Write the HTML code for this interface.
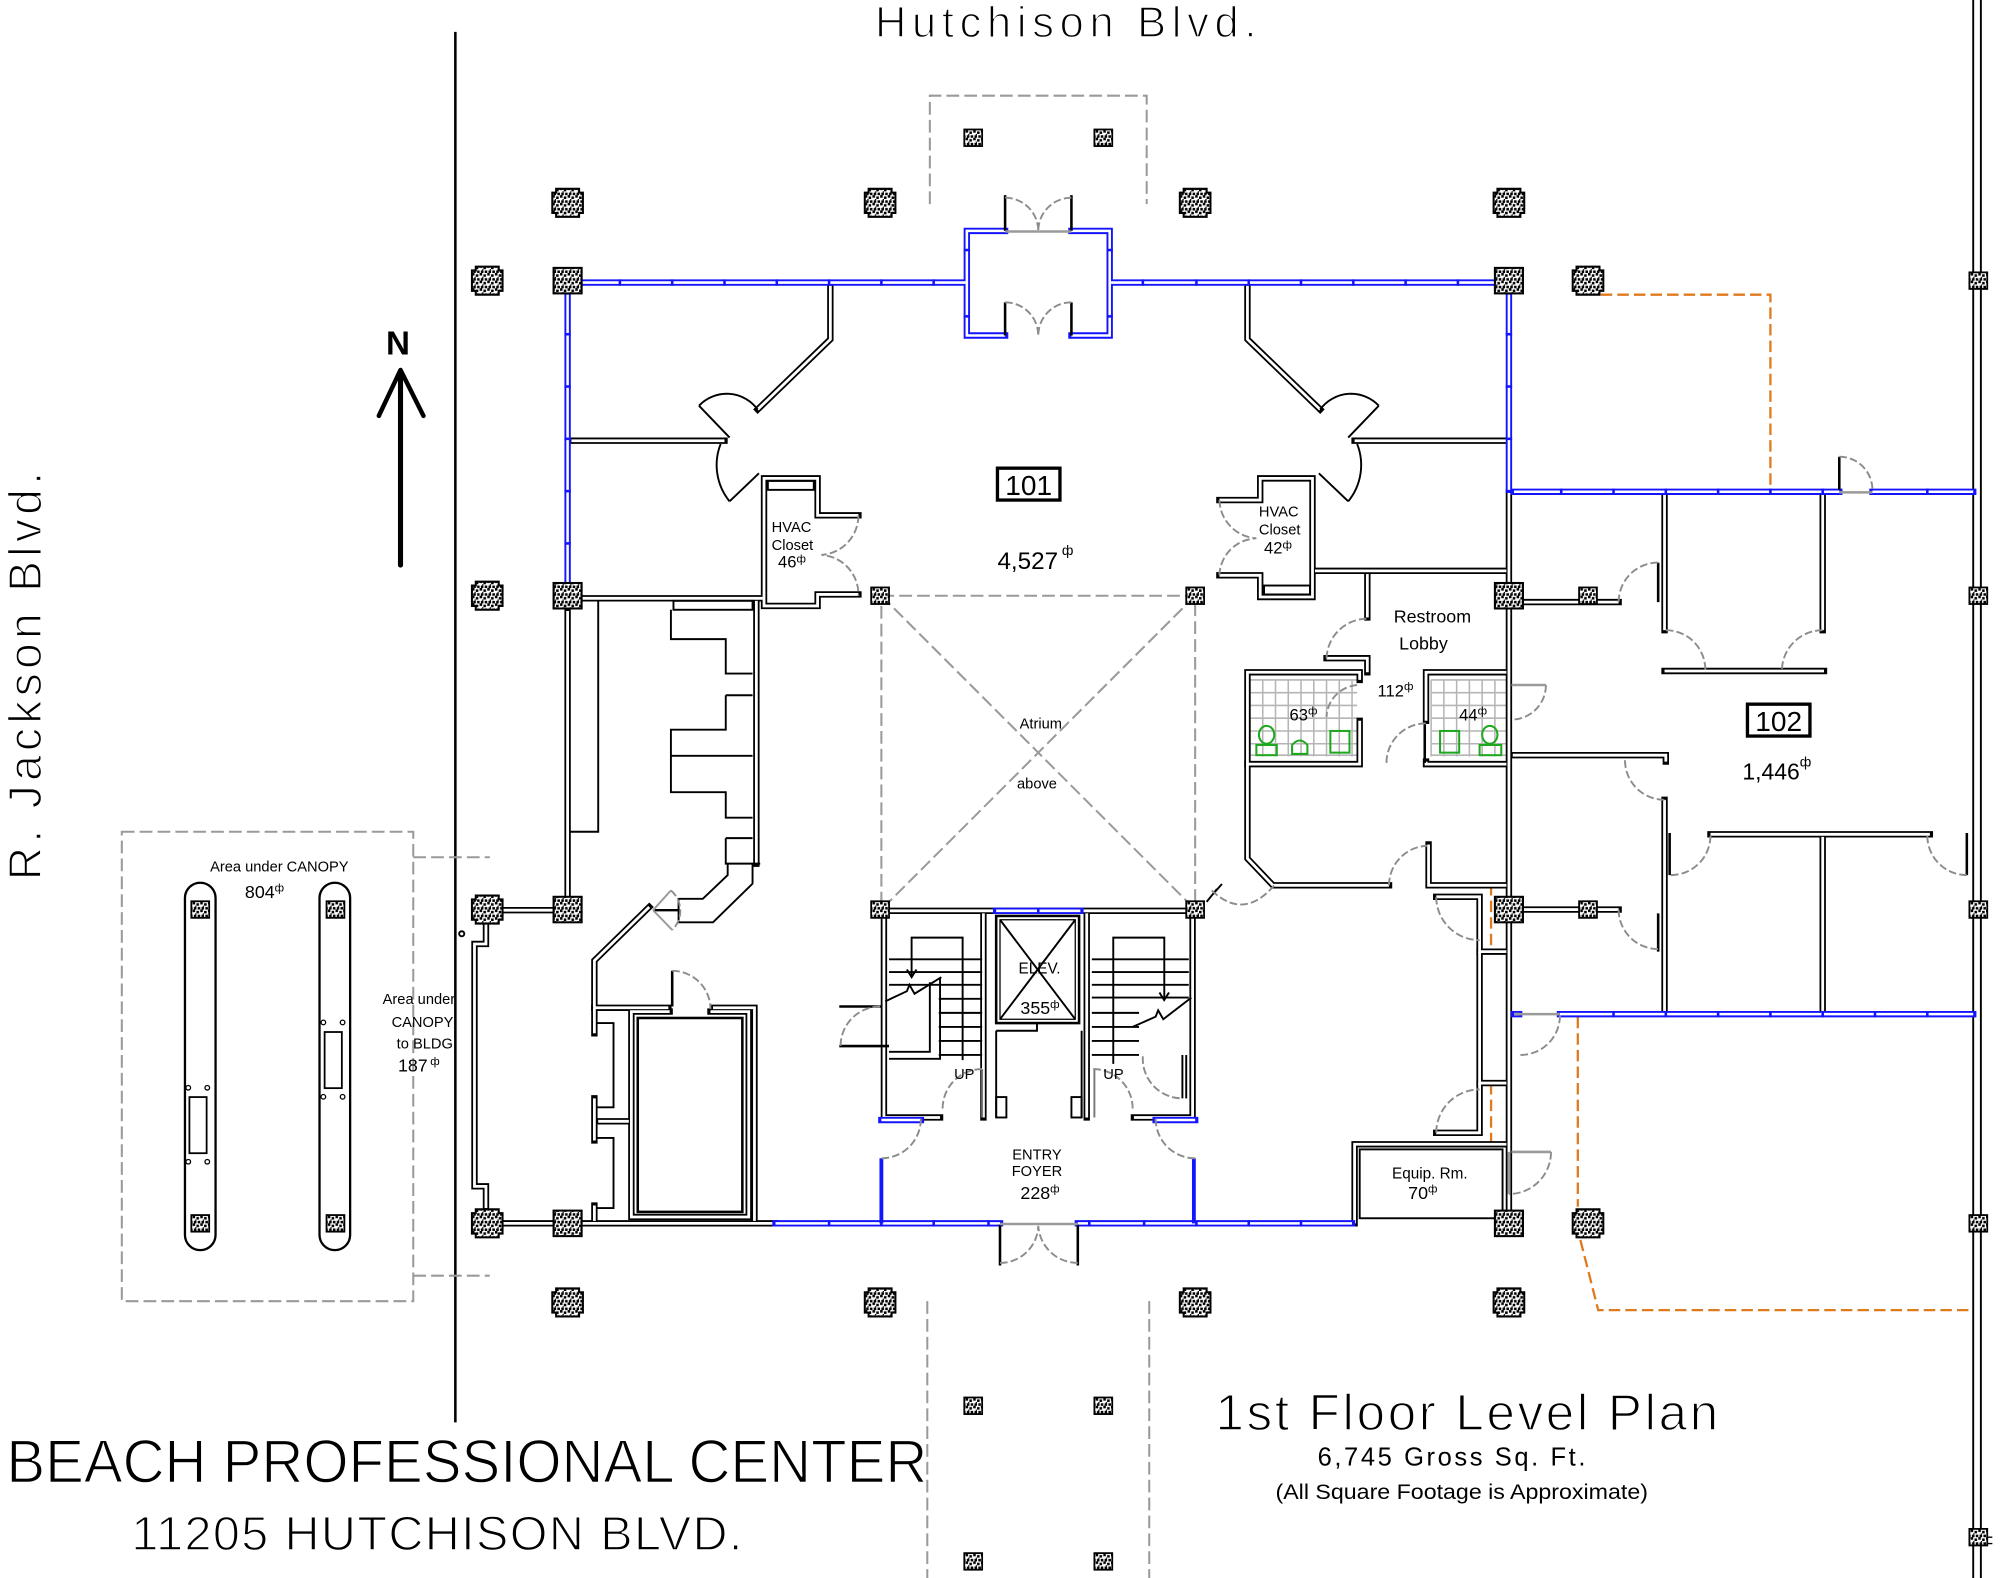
<!DOCTYPE html>
<html><head><meta charset="utf-8">
<style>
html,body{margin:0;padding:0;background:#fff;}
svg{display:block;}
text{font-family:"Liberation Sans",sans-serif;fill:#000;}
.thin{stroke:#fff;stroke-width:1.1px;}
</style></head><body>
<svg width="2000" height="1578" viewBox="0 0 1568 1237" preserveAspectRatio="none" xmlns="http://www.w3.org/2000/svg">
<defs>
<pattern id="sp" width="6" height="6" patternUnits="userSpaceOnUse">
<rect width="6" height="6" fill="#fff"/>
<rect x="0" y="0" width="2" height="2" fill="#000"/>
<rect x="3" y="1" width="2" height="2" fill="#000"/>
<rect x="1" y="4" width="2" height="2" fill="#000"/>
<rect x="4" y="4" width="2" height="2" fill="#000"/>
<rect x="2" y="3" width="1" height="1" fill="#000"/>
</pattern>
<polygon id="bc" points="-9,-11 9,-11 9,-8 12,-8 12,8 9,8 9,11 -9,11 -9,8 -12,8 -12,-8 -9,-8" fill="url(#sp)" stroke="#000" stroke-width="1.6"/>
<rect id="mc" x="-11" y="-10" width="22" height="20" fill="url(#sp)" stroke="#000" stroke-width="1.6"/>
<rect id="sc" x="-7" y="-6.5" width="14" height="13" fill="url(#sp)" stroke="#000" stroke-width="1.4"/>
<g id="bw" fill="none">
<path d="M651,224 V266 L594,321"/>
<path d="M448,345.5 H568"/>
<path d="M978,224 V266 L1035,321"/>
<path d="M1062,345.5 H1181"/>
<path d="M673,404 H641 V375 H599 V475 H641 V466 H673"/>
<path d="M448,469 H598"/>
<path d="M956,392 H988 V375 H1029 V468 H988 V451 H956"/>
<path d="M1031,447.5 H1181"/>
<path d="M1072,450 V484"/>
<path d="M1040,516 H1072 V527"/>
<path d="M1066,533 V527 H978 V599 H1066 V565"/>
<path d="M1118,565 V527 H1181"/>
<path d="M1118,597 V599 H1181"/>
<path d="M978,599 V673 L998,694 H1089"/>
<path d="M1120,662 V694 H1181"/>
<path d="M1126,703 H1160 V746 H1181"/>
<path d="M1160,746 V849 H1181"/>
<path d="M1160,849 V888 H1126"/>
<path d="M1062,959 V897 H1181"/>
<path d="M1183,386 V950"/>
<path d="M1193,472 H1269"/>
<path d="M1193,713 H1269"/>
<path d="M1305,388 V494"/>
<path d="M1429,388 V494"/>
<path d="M1305,526 H1430"/>
<path d="M1186,592 H1306 V597"/>
<path d="M1305,627 V794"/>
<path d="M1341,654 H1513"/>
<path d="M1429,656 V794"/>
<path d="M445,479 V703"/>
<path d="M593,471 V677"/>
<path d="M509,711 L466,753 V790"/>
<path d="M466,790 H524"/>
<path d="M559,790 H591.5 V957"/>
<path d="M466,790 V810 M466,861 V894 M466,945 V957"/>
<path d="M469,879 H493"/>
<path d="M525,793 H495 V954 H587 V793 H557"/>
<path d="M393,713.5 H435"/>
<path d="M393,959 H435"/>
<path d="M455,959 H608"/>
<path d="M381,723 V740 H372 V930 H381 V947"/>
<path d="M693,714 H935"/>
<path d="M693,716 V876 H737"/>
<path d="M771,716 V876"/>
<path d="M852,716 V876"/>
<path d="M935,716 V876 H889"/>
</g>
<g id="blw" fill="none">
<path d="M455,221.5 H757"/>
<path d="M871,221.5 H1172"/>
<path d="M445,231 V457"/>
<path d="M1183,231 V384"/>
<path d="M788,181 H758 V263 H788"/>
<path d="M840,181 H870 V263 H840"/>
<path d="M1187,385.5 H1442"/>
<path d="M1468,385.5 H1547"/>
<path d="M1223,795 H1547"/>
<path d="M1187,795 H1191"/>
<path d="M608,959 H784"/>
<path d="M845,959 H1060"/>
<path d="M691,878 H722"/>
<path d="M906,878 H937"/>
<path d="M781,714 H847"/>
</g>
</defs>

<rect width="1568" height="1237" fill="#fff"/>

<!-- site lines -->
<path d="M357,25 V1115" stroke="#000" stroke-width="2" fill="none"/>
<path d="M1547,0 V1237 M1553,0 V1237" stroke="#000" stroke-width="1.5" fill="none"/>
<path d="M1553,1205 H1562 M1553,1210 H1562" stroke="#000" stroke-width="1" fill="none"/>

<!-- grey dashed -->
<g fill="none" stroke="#9a9a9a" stroke-width="1.6" stroke-dasharray="10 4">
<path d="M729,160 V75 H899 V160"/>
<path d="M691,467 H937 V713 H691 Z"/>
<path d="M691,467 L937,713 M937,467 L691,713"/>
<path d="M727,1020 V1237 M901,1020 V1237"/>
<rect x="95.5" y="652" width="228.5" height="368"/>
<path d="M324,672 H384 M324,1000 H384"/>
</g>

<!-- orange dashed -->
<g fill="none" stroke="#e07a1f" stroke-width="1.8" stroke-dasharray="9 4">
<path d="M1255,231 H1388 V384"/>
<path d="M1237,797 V946"/>
<path d="M1239,972 L1253,1027 H1546"/>
<path d="M1169,693 V746 M1169,849 V897"/>
</g>

<!-- tile grids -->
<g stroke="#b5b5b5" stroke-width="1.2" fill="none">
<path d="M980,533 H1064 M980,543 H1064 M980,553 H1064 M980,563 H1064 M980,573 H1064 M980,583 H1064 M980,592 H1064"/>
<path d="M980,533 V593 M990,533 V593 M1000,533 V593 M1010,533 V593 M1020,533 V593 M1030,533 V593 M1040,533 V593 M1050,533 V593 M1060,533 V593"/>
<path d="M1122,533 H1182 M1122,543 H1182 M1122,553 H1182 M1122,563 H1182 M1122,573 H1182 M1122,583 H1182 M1122,592 H1182"/>
<path d="M1122,533 V593 M1132,533 V593 M1142,533 V593 M1152,533 V593 M1162,533 V593 M1172,533 V593"/>
</g>

<!-- walls -->
<use href="#bw" stroke="#000" stroke-width="5" stroke-linecap="square"/>
<use href="#bw" stroke="#fff" stroke-width="2.2"/>
<use href="#blw" stroke="#1414ff" stroke-width="5" stroke-linecap="square"/>
<use href="#blw" stroke="#fff" stroke-width="2"/>
<path d="M691,908 V959 M936,908 V959" stroke="#1414ff" stroke-width="3" fill="none"/>

<!-- blue ticks -->
<g fill="#1414ff">
<rect x="485" y="219" width="2" height="5"/><rect x="526" y="219" width="2" height="5"/><rect x="567" y="219" width="2" height="5"/><rect x="608" y="219" width="2" height="5"/><rect x="649" y="219" width="2" height="5"/><rect x="690" y="219" width="2" height="5"/><rect x="731" y="219" width="2" height="5"/>
<rect x="895" y="219" width="2" height="5"/><rect x="937" y="219" width="2" height="5"/><rect x="978" y="219" width="2" height="5"/><rect x="1019" y="219" width="2" height="5"/><rect x="1060" y="219" width="2" height="5"/><rect x="1101" y="219" width="2" height="5"/><rect x="1142" y="219" width="2" height="5"/>
<rect x="442.5" y="261" width="5" height="2"/><rect x="442.5" y="302" width="5" height="2"/><rect x="442.5" y="343" width="5" height="2"/><rect x="442.5" y="384" width="5" height="2"/><rect x="442.5" y="425" width="5" height="2"/>
<rect x="1180.5" y="261" width="5" height="2"/><rect x="1180.5" y="302" width="5" height="2"/><rect x="1180.5" y="343" width="5" height="2"/>
<rect x="755.5" y="195" width="5" height="2"/><rect x="755.5" y="247" width="5" height="2"/><rect x="867.5" y="195" width="5" height="2"/><rect x="867.5" y="247" width="5" height="2"/>
<rect x="1223" y="383" width="2" height="5"/><rect x="1264" y="383" width="2" height="5"/><rect x="1305" y="383" width="2" height="5"/><rect x="1346" y="383" width="2" height="5"/><rect x="1387" y="383" width="2" height="5"/><rect x="1428" y="383" width="2" height="5"/><rect x="1510" y="383" width="2" height="5"/>
<rect x="1264" y="792.5" width="2" height="5"/><rect x="1305" y="792.5" width="2" height="5"/><rect x="1346" y="792.5" width="2" height="5"/><rect x="1387" y="792.5" width="2" height="5"/><rect x="1428" y="792.5" width="2" height="5"/><rect x="1469" y="792.5" width="2" height="5"/><rect x="1510" y="792.5" width="2" height="5"/>
<rect x="649" y="956.5" width="2" height="5"/><rect x="690" y="956.5" width="2" height="5"/><rect x="731" y="956.5" width="2" height="5"/><rect x="774" y="956.5" width="2" height="5"/><rect x="853" y="956.5" width="2" height="5"/><rect x="896" y="956.5" width="2" height="5"/><rect x="937" y="956.5" width="2" height="5"/><rect x="978" y="956.5" width="2" height="5"/><rect x="1019" y="956.5" width="2" height="5"/>
<rect x="813" y="711.5" width="2" height="5"/>
</g>

<!-- thin black details -->
<g fill="none" stroke="#000" stroke-width="1.5">
<path d="M447,652 H469 V471"/>
<rect x="528" y="471" width="62" height="7"/>
<path d="M526,478 V501 H569 V528 H590"/>
<path d="M569,545 H590 M569,545 V572 H526 V621 H569 V641 H590"/>
<path d="M526,592.5 H590"/>
<path d="M569,657 H590 M569,657 V677 H596"/>
<path d="M570.5,677 V686 L551,704.6 H532 V723 H559 L590,692.7 V677"/>
<rect x="500" y="798" width="82" height="152" stroke-width="2"/>
<path d="M468,802 H481 V868 H468 M468,892 H481 V947 H468"/>
<rect x="602" y="377" width="36" height="7"/>
<rect x="991" y="459" width="36" height="7"/>
<!-- stairs left -->
<path d="M697,752 H770 M697,762 H770 M697,772 H770 M736,783 H770 M736,794 H770 M736,805 H770 M736,816 H770 M736,827 H770"/>
<path d="M714.7,765 V735 H754.7 V831"/>
<path d="M697,830 H737 V767"/>
<path d="M697,824.5 H729 V770"/>
<path d="M694,785 L711,777 L713,772 L717,779 L738,766"/>
<path d="M711,760 L714.7,766 L718.5,760"/>
<!-- stairs right -->
<path d="M856,752 H932 M856,762 H932 M856,772 H932 M856,782 H932 M856,794 H893 M856,805 H893 M856,816 H893 M856,827 H893"/>
<path d="M872.8,834 V735 H912.8 V784"/>
<path d="M888,805 L906,797 L908,792 L912,799 L934,782"/>
<path d="M909,778 L912.7,784 L916.5,778"/>
<path d="M927,827 V861 M930,827 V861"/>
<!-- elevator -->
<rect x="781" y="718" width="65" height="84" stroke-width="2"/>
<rect x="784" y="721" width="59" height="78" stroke-width="1"/>
<path d="M784,721 L843,799 M843,721 L784,799"/>
<path d="M781,808 H813 V802 M781,808 V876 M848,808 V876"/>
<rect x="781" y="860" width="8" height="16"/>
<rect x="840" y="860" width="8" height="16"/>
<!-- equip inner -->
<rect x="1066" y="901" width="112" height="54"/>
<!-- door leaves -->
<path d="M788,153 V181 M840,153 V181 M788,237 V263 M840,237 V263 M784,960 V992 M845,960 V992" stroke-width="2"/>
<path d="M548,318 L572,343 M1081,318 L1057,343 M595,371 L572,393 M1034,371 L1057,393"/>
<path d="M548,318 A30,30 0 0 1 594,321"/>
<path d="M1081,318 A30,30 0 0 0 1035,321"/>
<path d="M565,348 A45,45 0 0 0 572,393"/>
<path d="M1064,348 A45,45 0 0 1 1057,393"/>
<path d="M1300,441 V472 M1309,653 V686 M1542,653 V686 M1300,716 V746 M1442,358 V384 M1117,566 V598 M527,789 V761 M658,789 H691 M658,820 H697" stroke-width="2"/>
<path d="M770,838 V876 M858,838 V876" stroke="#777"/>
<circle cx="362" cy="732" r="2"/>
<path d="M946,707 L954,697 M950,702 L958,693"/>
<path d="M512,713.5 H533" stroke-width="1.8"/>
</g>

<!-- door arcs grey dashed -->
<g fill="none" stroke="#8c8c8c" stroke-width="1.5" stroke-dasharray="6 2.5">
<path d="M788,155 A26,26 0 0 1 814,181 M840,155 A26,26 0 0 0 814,181"/>
<path d="M788,237 A26,26 0 0 1 814,263 M840,237 A26,26 0 0 0 814,263"/>
<path d="M784,990 A30,30 0 0 0 814,961 M845,990 A31,31 0 0 1 814,961"/>
<path d="M673,404 A31,31 0 0 1 644,435 A31,31 0 0 1 673,467"/>
<path d="M956,392 A31,31 0 0 0 985,422 A30,30 0 0 0 956,451"/>
<path d="M1040,516 A32,32 0 0 1 1072,485"/>
<path d="M1064,537 A26,26 0 0 0 1040,562"/>
<path d="M1087,598 A31,31 0 0 1 1118,567"/>
<path d="M1212,537 A27,27 0 0 1 1187,564"/>
<path d="M1089,694 A31,31 0 0 1 1119,663"/>
<path d="M950,698 Q975,722 999,694"/>
<path d="M1126,703 A34,34 0 0 0 1160,737"/>
<path d="M1126,888 A34,34 0 0 1 1160,854"/>
<path d="M1216,903 A33,33 0 0 1 1183,936"/>
<path d="M1192,827 A31,31 0 0 0 1223,796"/>
<path d="M1442,358 A26,26 0 0 1 1468,384"/>
<path d="M1269,472 A31,31 0 0 1 1300,441"/>
<path d="M1306,494 A31,31 0 0 1 1337,525"/>
<path d="M1429,494 A32,32 0 0 0 1397,525"/>
<path d="M1274,596 A31,31 0 0 0 1305,627"/>
<path d="M1310,686 A31,31 0 0 0 1341,655"/>
<path d="M1542,686 A31,31 0 0 1 1511,655"/>
<path d="M1269,713 A31,31 0 0 0 1300,744"/>
<path d="M690,789 A31,31 0 0 0 659,820"/>
<path d="M739,869 A31,31 0 0 1 770,838"/>
<path d="M888,869 A31,31 0 0 0 857,838"/>
<path d="M896,828 A31,31 0 0 0 927,861"/>
<path d="M722,877 A31,31 0 0 1 691,908"/>
<path d="M906,877 A31,31 0 0 0 937,908"/>
<path d="M527,761 A30,30 0 0 1 557,791"/>
<path d="M526,698 A21,21 0 0 1 527,729"/>
</g>
<g stroke="#9a9a9a" stroke-width="1.5" fill="none">
<path d="M512,713.5 L526,698 M512,713.5 L527,729"/>
</g>
<g stroke="#9a9a9a" stroke-width="2" fill="none">
<path d="M788,181.5 H840 M784,959.5 H845 M1442,386 H1468 M1183,903 V936 M1187,795 H1223 M1185,903 H1216 M1185,537 H1212"/>
</g>

<!-- green fixtures -->
<g fill="none" stroke="#1fa81f" stroke-width="1.6">
<ellipse cx="993" cy="576" rx="6" ry="7"/>
<rect x="985" y="584" width="16" height="8"/>
<path d="M1013,591 V584 Q1019,577 1025,584 V591 Z"/>
<rect x="1043" y="573" width="15" height="17"/>
<rect x="1129" y="573" width="15" height="17"/>
<ellipse cx="1168" cy="576" rx="6" ry="7"/>
<rect x="1160" y="584" width="17" height="8"/>
</g>

<!-- canopy pills -->
<g fill="none" stroke="#000" stroke-width="1.8">
<rect x="145" y="692" width="24" height="288" rx="12"/>
<rect x="250.5" y="692" width="24" height="288" rx="12"/>
<rect x="148.5" y="860" width="13.5" height="44" stroke-width="1.4"/>
<rect x="254.5" y="809" width="13.5" height="44" stroke-width="1.4"/>
<g stroke-width="1"><circle cx="147.6" cy="852.7" r="1.8"/><circle cx="162.5" cy="852.7" r="1.8"/><circle cx="147.6" cy="910.7" r="1.8"/><circle cx="162.5" cy="910.7" r="1.8"/>
<circle cx="253.5" cy="801.5" r="1.8"/><circle cx="268.6" cy="801.5" r="1.8"/><circle cx="253.5" cy="859.8" r="1.8"/><circle cx="268.6" cy="859.8" r="1.8"/></g>
</g>

<!-- columns -->
<use href="#bc" x="445" y="159"/><use href="#bc" x="690" y="159"/><use href="#bc" x="937" y="159"/><use href="#bc" x="1183" y="159"/>
<use href="#bc" x="382" y="220"/><use href="#bc" x="1245" y="220"/><use href="#bc" x="382" y="467"/><use href="#bc" x="382" y="713"/>
<use href="#bc" x="382" y="959"/><use href="#bc" x="1245" y="959"/><use href="#bc" x="445" y="1021"/><use href="#bc" x="690" y="1021"/>
<use href="#bc" x="937" y="1021"/><use href="#bc" x="1183" y="1021"/>
<use href="#mc" x="445" y="220"/><use href="#mc" x="445" y="467"/><use href="#mc" x="445" y="713"/><use href="#mc" x="445" y="959"/>
<use href="#mc" x="1183" y="220"/><use href="#mc" x="1183" y="467"/><use href="#mc" x="1183" y="713"/><use href="#mc" x="1183" y="959"/>
<use href="#sc" x="763" y="108"/><use href="#sc" x="865" y="108"/><use href="#sc" x="690" y="467"/><use href="#sc" x="937" y="467"/>
<use href="#sc" x="690" y="713"/><use href="#sc" x="937" y="713"/><use href="#sc" x="1245" y="467"/><use href="#sc" x="1245" y="713"/>
<use href="#sc" x="763" y="1102"/><use href="#sc" x="865" y="1102"/><use href="#sc" x="763" y="1224"/><use href="#sc" x="865" y="1224"/>
<use href="#sc" x="157" y="713"/><use href="#sc" x="263" y="713"/><use href="#sc" x="157" y="959"/><use href="#sc" x="263" y="959"/>
<use href="#sc" x="1551" y="220"/><use href="#sc" x="1551" y="467"/><use href="#sc" x="1551" y="713"/><use href="#sc" x="1551" y="959"/><use href="#sc" x="1551" y="1205"/>

<!-- north arrow -->
<path d="M314,292 V443" stroke="#000" stroke-width="4" stroke-linecap="round" fill="none"/>
<path d="M297,326 L314,290 L332,326" stroke="#000" stroke-width="3.5" stroke-linecap="round" stroke-linejoin="round" fill="none"/>
<text x="312" y="278" font-size="26" font-weight="bold" text-anchor="middle">N</text>

<!-- room label boxes -->
<rect x="782" y="367" width="49" height="25" fill="none" stroke="#000" stroke-width="2.6"/>
<text x="806.5" y="388" font-size="22" text-anchor="middle">101</text>
<rect x="1370" y="552" width="49" height="25" fill="none" stroke="#000" stroke-width="2.6"/>
<text x="1394.5" y="573" font-size="22" text-anchor="middle">102</text>

<!-- big titles -->
<text class="thin" x="686" y="29" font-size="34" textLength="299" lengthAdjust="spacing">Hutchison Blvd.</text>
<text class="thin" transform="translate(32,690) rotate(-90)" x="0" y="0" font-size="36" textLength="320" lengthAdjust="spacing">R. Jackson Blvd.</text>
<text class="thin" x="5" y="1162" font-size="48" textLength="722" lengthAdjust="spacingAndGlyphs">BEACH PROFESSIONAL CENTER</text>
<text class="thin" x="103" y="1215" font-size="38" textLength="479" lengthAdjust="spacing">11205 HUTCHISON BLVD.</text>
<text class="thin" x="953" y="1121" font-size="40" textLength="394" lengthAdjust="spacing">1st Floor Level Plan</text>
<text x="1033" y="1149" font-size="20" textLength="210" lengthAdjust="spacing">6,745 Gross Sq. Ft.</text>
<text x="1000" y="1175" font-size="17" textLength="292" lengthAdjust="spacingAndGlyphs">(All Square Footage is Approximate)</text>

<!-- room texts -->
<text x="782" y="446" font-size="19">4,527<tspan font-size="11" dy="-11" dx="3">ф</tspan></text>
<text x="1366" y="611" font-size="18">1,446<tspan font-size="11" dy="-10">ф</tspan></text>
<g font-size="11.5">
<text x="605" y="417">HVAC</text>
<text x="605" y="431">Closet</text>
<text x="610" y="445" font-size="13">46<tspan font-size="9" dy="-4">ф</tspan></text>
<text x="987" y="405">HVAC</text>
<text x="987" y="419">Closet</text>
<text x="991" y="434" font-size="13">42<tspan font-size="9" dy="-4">ф</tspan></text>
<text x="816" y="571" text-anchor="middle">Atrium</text>
<text x="813" y="618" text-anchor="middle">above</text>
<text x="815" y="763" text-anchor="middle" font-size="12">ELEV.</text>
<text x="800" y="795" font-size="14">355<tspan font-size="9" dy="-5">ф</tspan></text>
<text x="748" y="846">UP</text>
<text x="865" y="846">UP</text>
<text x="813" y="909" text-anchor="middle">ENTRY</text>
<text x="813" y="922" text-anchor="middle">FOYER</text>
<text x="800" y="940" font-size="14">228<tspan font-size="9" dy="-5">ф</tspan></text>
<text x="1121" y="924" text-anchor="middle" font-size="12">Equip. Rm.</text>
<text x="1104" y="940" font-size="14">70<tspan font-size="9" dy="-5">ф</tspan></text>
<text x="1123" y="488" text-anchor="middle" font-size="14">Restroom</text>
<text x="1116" y="509" text-anchor="middle" font-size="14">Lobby</text>
<text x="1080" y="546" font-size="13">112<tspan font-size="9" dy="-5">ф</tspan></text>
<text x="1011" y="565" font-size="13">63<tspan font-size="9" dy="-5">ф</tspan></text>
<text x="1144" y="565" font-size="13">44<tspan font-size="9" dy="-5">ф</tspan></text>
<text x="219" y="683" text-anchor="middle">Area under CANOPY</text>
<text x="192" y="704" font-size="14">804<tspan font-size="9" dy="-5">ф</tspan></text>
<text x="300" y="787">Area under</text>
<text x="307" y="805">CANOPY</text>
<text x="311" y="822">to BLDG.</text>
<text x="312" y="840" font-size="14">187<tspan font-size="9" dy="-5" dx="2">ф</tspan></text>
</g>
</svg>
</body></html>
